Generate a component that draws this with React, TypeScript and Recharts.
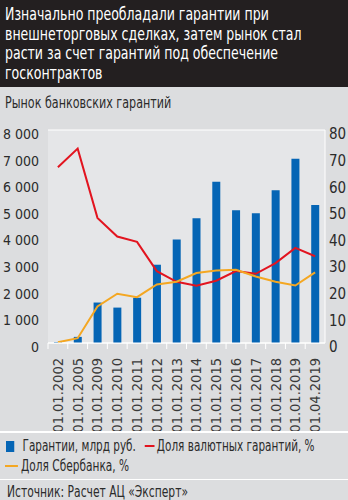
import React from 'react';
import { ComposedChart, CartesianGrid, XAxis, YAxis, Bar, Line } from 'recharts';

const dates = [
  '01.01.2002', '01.01.2005', '01.01.2009', '01.01.2010', '01.01.2011', '01.01.2012', '01.01.2013',
  '01.01.2014', '01.01.2015', '01.01.2016', '01.01.2017', '01.01.2018', '01.01.2019', '01.04.2019',
];
const guarantees = [30, 230, 1520, 1330, 1700, 2940, 3890, 4690, 6060, 4990, 4870, 5740, 6920, 5180];
const currencyShare = [66, 73, 47, 40, 38, 27, 23, 21.5, 23.4, 27, 26, 30, 35.7, 32.6];
const sberShare = [0.3, 1.8, 13.7, 18.5, 17.2, 22, 23, 26.3, 27.2, 27.5, 25, 23, 21.6, 26.5];
const leftTicks = [0, 1000, 2000, 3000, 4000, 5000, 6000, 7000, 8000];
const rightTicks = [0, 10, 20, 30, 40, 50, 60, 70, 80];

const titleLines = [
  'Изначально преобладали гарантии при',
  'внешнеторговых сделках, затем рынок стал',
  'расти за счет гарантий под обеспечение',
  'госконтрактов',
];

const data = dates.map((d, i) => ({
  date: d,
  guarantees: guarantees[i],
  currency: currencyShare[i],
  sber: sberShare[i],
}));

const FONT = '"DejaVu Sans Condensed", "Liberation Sans", sans-serif';
const BG = '#dcdddf';
const PLOT_BG = '#e5e6e8';
const TEXT = '#2b2b2b';
const BLUE = '#0565b5';
const RED = '#e2141f';
const ORANGE = '#f4a722';

const PLOT_LEFT = 48;
const PLOT_RIGHT = 325;
const BAND = (PLOT_RIGHT - PLOT_LEFT) / dates.length;

const fmtThousands = (v: number) => (v >= 1000 ? `${Math.floor(v / 1000)} ${String(v % 1000).padStart(3, '0')}` : `${v}`);

// narrow text: condensed font squeezed a bit more horizontally
const Cond: React.FC<any> = ({ k, style, children }) => (
  <div
    style={{
      position: 'absolute',
      whiteSpace: 'nowrap',
      transform: `scaleX(${k})`,
      transformOrigin: '0 0',
      ...style,
    }}
  >
    {children}
  </div>
);

const DateTick: React.FC<any> = ({ x, y, payload }) => (
  <g transform={`translate(${x},${y})`}>
    <line x1={-BAND / 2} x2={-BAND / 2} y1={0} y2={6} stroke="#fff" strokeWidth={1} />
    <text
      transform="rotate(-90)"
      x={-15}
      y={5}
      textAnchor="end"
      fill="#3a3a3a"
      fontSize={14.5}
      fontFamily={FONT}
    >
      {payload.value}
    </text>
  </g>
);

const App: React.FC = () => {
  return (
    <div style={{ position: 'fixed', top: 0, left: 0, width: 348, height: 500, background: BG, fontFamily: FONT, overflow: 'hidden' }}>
      <div style={{ position: 'absolute', top: 0, left: 0, width: 348, height: 87, background: '#231f20' }} />
      {titleLines.map((t, i) => (
        <Cond key={t} k={0.82} style={{ top: 4 + i * 19.7, left: 5, color: '#fff', fontSize: 17, lineHeight: '20px' }}>
          {t}
        </Cond>
      ))}
      <Cond k={0.8} style={{ top: 94, left: 5, fontSize: 15.5, color: TEXT }}>
        Рынок банковских гарантий
      </Cond>

      <div style={{ position: 'absolute', top: 0, left: 0 }}>
        <ComposedChart
          width={348}
          height={500}
          data={data}
          margin={{ top: 130, right: 0, left: 8, bottom: 72 }}
          barSize={8}
        >
          <CartesianGrid vertical={false} stroke="#ffffff" strokeWidth={1.2} fill={PLOT_BG} fillOpacity={1} />
          <XAxis
            dataKey="date"
            interval={0}
            height={85}
            tickSize={0}
            tickMargin={0}
            stroke="#ffffff"
            tick={<DateTick />}
          />
          <YAxis
            yAxisId="left"
            domain={[0, 8000]}
            ticks={leftTicks}
            width={40}
            axisLine={false}
            tickLine={false}
            tickSize={0}
            tickMargin={9}
            tickFormatter={fmtThousands}
            tick={{ fill: TEXT, fontSize: 14, fontFamily: FONT, dy: 4 }}
          />
          <YAxis
            yAxisId="right"
            orientation="right"
            domain={[0, 80]}
            ticks={rightTicks}
            width={23}
            axisLine={{ stroke: '#ffffff' }}
            tickLine={false}
            tickSize={0}
            tickMargin={4}
            tick={{ fill: TEXT, fontSize: 15, fontFamily: FONT, dy: 4, textAnchor: 'start' }}
          />
          <Bar yAxisId="left" dataKey="guarantees" fill={BLUE} isAnimationActive={false} />
          <Line yAxisId="right" type="linear" dataKey="currency" stroke={RED} strokeWidth={2} dot={false} isAnimationActive={false} />
          <Line yAxisId="right" type="linear" dataKey="sber" stroke={ORANGE} strokeWidth={2} dot={false} isAnimationActive={false} />
        </ComposedChart>
      </div>

      <div style={{ position: 'absolute', top: 431, left: 0, width: 348, height: 1.5, background: '#fff' }} />
      <Cond k={0.75} style={{ top: 437, left: 6, fontSize: 15.5, color: TEXT }}>
        <span style={{ display: 'inline-block', width: 11, height: 11, background: BLUE, marginRight: 11, verticalAlign: '-1px' }} />
        Гарантии, млрд руб.
        <span style={{ display: 'inline-block', width: 13, height: 2.5, background: RED, margin: '0 3px 0 12px', verticalAlign: '4px' }} />
        Доля валютных гарантий, %
      </Cond>
      <Cond k={0.76} style={{ top: 457, left: 5, fontSize: 15.5, color: TEXT }}>
        <span style={{ display: 'inline-block', width: 17, height: 2.5, background: ORANGE, marginRight: 4, verticalAlign: '4px' }} />
        Доля Сбербанка, %
      </Cond>
      <div style={{ position: 'absolute', top: 478.5, left: 0, width: 348, height: 1.5, background: '#fff' }} />
      <Cond k={0.77} style={{ top: 483, left: 7, fontSize: 15.5, color: TEXT }}>
        Источник: Расчет АЦ «Эксперт»
      </Cond>
    </div>
  );
};

export default App;
